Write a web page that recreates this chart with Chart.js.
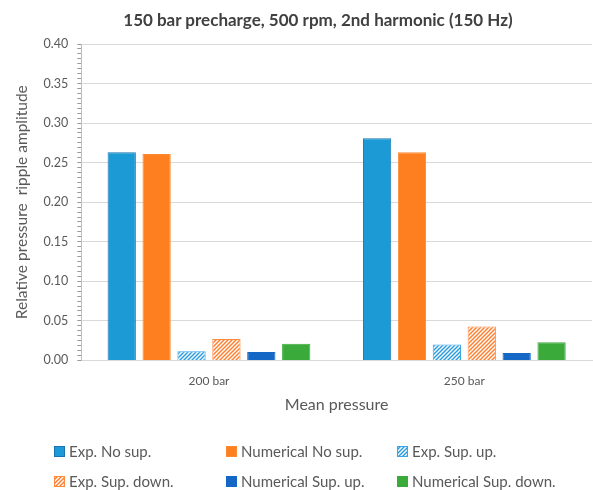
<!DOCTYPE html>
<html>
<head>
<meta charset="utf-8">
<script src="https://cdn.jsdelivr.net/npm/chart.js@4"></script>
<style>
  body { margin: 0; background: #fff; }
  #wrap { position: relative; width: 593px; height: 490px; font-family: Lato, sans-serif; }
  #title { position: absolute; top: 9px; left: 43px; right: 0; text-align: center;
           font-size: 17px; font-weight: bold; color: #404040; }
  #legend { position: absolute; left: 54px; top: 442px; display: grid;
            grid-template-columns: 172px 171px 180px; row-gap: 12px; }
  .item { display: flex; align-items: center; font-size: 15px; color: #595959; height: 18px; }
  .item canvas { margin-right: 4px; }
</style>
</head>
<body>
<div id="wrap">
  <div id="title">150 bar precharge, 500 rpm, 2nd harmonic (150 Hz)</div>
  <canvas id="myChart" width="593" height="490"></canvas>
  <div id="legend"></div>
</div>
<script>
var categories = ["200 bar", "250 bar"];
var seriesNames = ["Exp. No sup.", "Numerical No sup.", "Exp. Sup. up.",
                   "Exp. Sup. down.", "Numerical Sup. up.", "Numerical Sup. down."];
var expNoSup     = [0.263, 0.281];
var numNoSup     = [0.261, 0.263];
var expSupUp     = [0.0115, 0.020];
var expSupDown   = [0.027, 0.043];
var numSupUp     = [0.0105, 0.0095];
var numSupDown   = [0.021, 0.023];
var yTicks = [0, 0.05, 0.10, 0.15, 0.20, 0.25, 0.30, 0.35, 0.40];

// diagonal hatch fill like Excel's "wide upward diagonal"
function hatch(color) {
    var c = document.createElement("canvas");
    c.width = 4; c.height = 4;
    var g = c.getContext("2d");
    g.fillStyle = "#fff";
    g.fillRect(0, 0, 4, 4);
    g.strokeStyle = color;
    g.lineWidth = 1.5;
    g.beginPath();
    g.moveTo(-1, 5); g.lineTo(5, -1);
    g.moveTo(-1, 1); g.lineTo(1, -1);
    g.moveTo(3, 5); g.lineTo(5, 3);
    g.stroke();
    return g.createPattern(c, "repeat");
}

var fills = ["#1c9ad6", "#fe7f1f", hatch("#2a9ee0"), hatch("#ff8030"), "#1467c4", "#3aaa3a"];
var borders = ["#1674b2", "#fd8a30", "#3aa5e4", "#ff8a3c", "#1467c4", "#3aaa3a"];
var values = [expNoSup, numNoSup, expSupUp, expSupDown, numSupUp, numSupDown];

var datasets = [];
for (var i = 0; i < seriesNames.length; i++) {
    datasets.push({
        label: seriesNames[i],
        data: values[i],
        backgroundColor: fills[i],
        borderColor: borders[i],
        borderWidth: 1,
        categoryPercentage: 0.82,
        barPercentage: 0.81
    });
}

function isMajor(v) {
    return Math.abs(v / 0.05 - Math.round(v / 0.05)) < 1e-6;
}

var chart = new Chart("myChart", {
    type: "bar",
    data: { labels: categories, datasets: datasets },
    options: {
        responsive: false,
        animation: false,
        layout: { padding: { top: 44, right: 1, bottom: 72, left: 13 } },
        plugins: {
            legend: { display: false },
            title: { display: false },
            tooltip: { enabled: false }
        },
        scales: {
            x: {
                grid: { display: false },
                border: { color: "#d9d9d9" },
                ticks: { color: "#595959", font: { family: "Lato", size: 12 }, padding: 6 },
                title: { display: true, text: "Mean pressure", color: "#595959",
                         font: { family: "Lato", size: 16 }, padding: { top: 0 } }
            },
            y: {
                min: 0, max: 0.4,
                border: { color: "#bfbfbf" },
                grid: {
                    color: function (ctx) {
                        return isMajor(ctx.tick.value) ? "#d9d9d9" : "rgba(0,0,0,0)";
                    },
                    tickColor: "#9a9a9a",
                    tickLength: 4
                },
                ticks: {
                    stepSize: 0.00625,
                    autoSkip: false,
                    padding: 9,
                    color: "#595959",
                    font: { family: "Lato", size: 12.5 },
                    callback: function (v) {
                        for (var k = 0; k < yTicks.length; k++) {
                            if (Math.abs(v - yTicks[k]) < 1e-6) return yTicks[k].toFixed(2);
                        }
                        return "";
                    }
                },
                title: { display: true, text: "Relative pressure  ripple amplitude", color: "#595959",
                         font: { family: "Lato", size: 15.5 }, padding: { top: 0, bottom: 3 } }
            }
        }
    }
});

// legend drawn from the chart's datasets
var legend = document.getElementById("legend");
chart.data.datasets.forEach(function (ds) {
    var item = document.createElement("div");
    item.className = "item";
    var box = document.createElement("canvas");
    box.width = 11; box.height = 11;
    var g = box.getContext("2d");
    g.fillStyle = ds.backgroundColor;
    g.fillRect(0, 0, 11, 11);
    g.strokeStyle = ds.borderColor;
    g.strokeRect(0.5, 0.5, 10, 10);
    item.appendChild(box);
    item.appendChild(document.createTextNode(ds.label));
    legend.appendChild(item);
});
</script>
</body>
</html>
